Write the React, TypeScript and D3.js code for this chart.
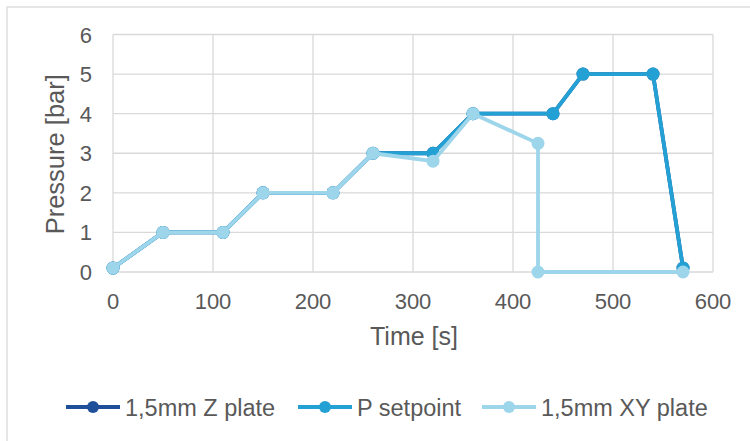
import React from "react";
import * as d3 from "d3";

const time = [0, 50, 110, 150, 220, 260, 320, 360, 440, 470, 540, 570];
const zPlate = [0.1, 1, 1, 2, 2, 3, 3, 4, 4, 5, 5, 0.1];
const pSetpoint = [0.1, 1, 1, 2, 2, 3, 3, 4, 4, 5, 5, 0.1];
const xyTime = [0, 50, 110, 150, 220, 260, 320, 360, 425, 425, 570];
const xyPlate = [0.1, 1, 1, 2, 2, 3, 2.8, 4, 3.25, 0, 0];
const xTicks = [0, 100, 200, 300, 400, 500, 600];
const yTicks = [0, 1, 2, 3, 4, 5, 6];
const seriesNames = ["1,5mm Z plate", "P setpoint", "1,5mm XY plate"];
const seriesColors = ["#1F4E9A", "#24A1D4", "#9DD5EB"];

const W = 750;
const H = 441;
const FONT = "'Liberation Sans', Arial, sans-serif";
const TXT = "#595959";

export default function App() {
  const x = d3.scaleLinear().domain([0, 600]).range([113, 713]);
  const y = d3.scaleLinear().domain([0, 6]).range([272, 34.5]);
  const line = d3
    .line<[number, number]>()
    .x((d) => x(d[0]))
    .y((d) => y(d[1]));

  const series = [
    { name: seriesNames[0], color: seriesColors[0], pts: time.map((t, i) => [t, zPlate[i]] as [number, number]) },
    { name: seriesNames[1], color: seriesColors[1], pts: time.map((t, i) => [t, pSetpoint[i]] as [number, number]) },
    { name: seriesNames[2], color: seriesColors[2], pts: xyTime.map((t, i) => [t, xyPlate[i]] as [number, number]) },
  ];

  const legendX = [66, 298, 482];

  return (
    <svg width={W} height={H} style={{ position: "absolute", left: 0, top: 0 }} fontFamily={FONT}>
      <rect x={0} y={0} width={W} height={H} fill="#ffffff" />
      <rect x={7} y={7} width={W + 10} height={H + 10} fill="none" stroke="#d9d9d9" strokeWidth={1.3} />
      {/* grid */}
      {xTicks.map((t) => (
        <line key={"gx" + t} x1={x(t)} x2={x(t)} y1={y(0)} y2={y(6)} stroke="#d9d9d9" strokeWidth={1.3} />
      ))}
      {yTicks.map((t) => (
        <line key={"gy" + t} x1={x(0)} x2={x(600)} y1={y(t)} y2={y(t)} stroke="#d9d9d9" strokeWidth={1.3} />
      ))}
      {/* tick labels */}
      {xTicks.map((t) => (
        <text key={"tx" + t} x={x(t)} y={309} textAnchor="middle" fontSize={22} fill={TXT}>
          {t}
        </text>
      ))}
      {yTicks.map((t) => (
        <text key={"ty" + t} x={92} y={y(t) + 8} textAnchor="end" fontSize={22} fill={TXT}>
          {t}
        </text>
      ))}
      {/* axis titles */}
      <text x={414} y={345} textAnchor="middle" fontSize={25} fill={TXT}>
        Time [s]
      </text>
      <text
        transform={`translate(64,${(y(0) + y(6)) / 2 + 1}) rotate(-90)`}
        textAnchor="middle"
        fontSize={25.5}
        fill={TXT}
      >
        Pressure [bar]
      </text>
      {/* series */}
      {series.map((s) => (
        <g key={s.name}>
          <path d={line(s.pts) || ""} fill="none" stroke={s.color} strokeWidth={3.8} strokeLinejoin="round" />
          {s.pts.map((p, i) => (
            <circle key={i} cx={x(p[0])} cy={y(p[1])} r={6.5} fill={s.color} />
          ))}
        </g>
      ))}
      {/* legend */}
      {series.map((s, i) => (
        <g key={"lg" + i}>
          <line x1={legendX[i]} x2={legendX[i] + 54} y1={407} y2={407} stroke={s.color} strokeWidth={4} />
          <circle cx={legendX[i] + 27} cy={407} r={6} fill={s.color} />
          <text x={legendX[i] + 59} y={415.5} fontSize={23.5} fill={TXT}>
            {s.name}
          </text>
        </g>
      ))}
    </svg>
  );
}
